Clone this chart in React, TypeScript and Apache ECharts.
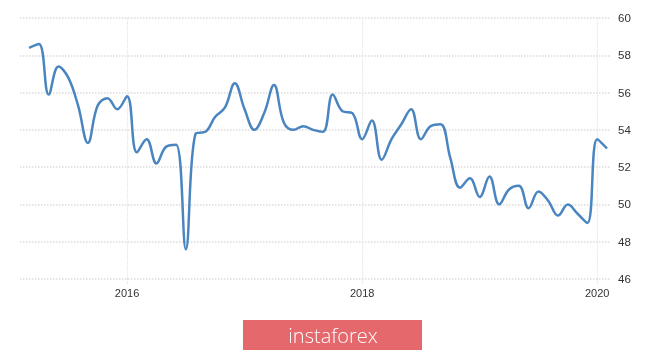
import React, { useEffect, useRef } from "react";
import * as echarts from "echarts";

// Monthly values, Mar 2015 .. Feb 2020
const startYear = 2015;
const startMonth = 3; // March
const values: number[] = [
  // 2015 Mar-Dec
  58.4, 58.6, 55.9, 57.4, 56.8, 55.3, 53.3, 55.3, 55.7, 55.1,
  // 2016
  55.8, 52.8, 53.5, 52.2, 53.1, 53.2, 47.6, 53.8, 53.9, 54.7, 55.2, 56.5,
  // 2017
  55.1, 54.0, 54.9, 56.4, 54.4, 54.0, 54.2, 54.0, 53.9, 55.9, 55.0, 54.9,
  // 2018
  53.5, 54.5, 52.4, 53.5, 54.3, 55.1, 53.5, 54.2, 54.3, 52.5, 50.9, 51.4,
  // 2019
  50.4, 51.5, 50.0, 50.8, 51.0, 49.8, 50.7, 50.2, 49.4, 50.0, 49.5, 49.0,
  // 2020 Jan-Feb
  53.5, 53.0,
];
const yearTicks: number[] = [2016, 2018, 2020];

export default function App() {
  const ref = useRef<HTMLDivElement>(null);
  useEffect(() => {
    if (!ref.current) return;
    const chart = echarts.init(ref.current, undefined, { renderer: "svg" });
    const data = values.map((v, i) => {
      const m = startMonth - 1 + i;
      return [startYear + m / 12, v];
    });
    const gridColor = "#dcdcdc";
    chart.setOption({
      animation: false,
      grid: { left: 20, right: 55, top: 18, bottom: 72 },
      xAxis: {
        type: "value",
        min: 2015.089,
        max: 2020.109,
        axisLine: { show: false },
        axisTick: {
          show: true,
          length: 5,
          customValues: yearTicks,
          lineStyle: { color: gridColor, type: "dotted", width: 1 },
        },
        axisLabel: {
          customValues: yearTicks,
          formatter: (v: number) => String(Math.round(v)),
          color: "#333",
          fontSize: 11,
          fontFamily: "Liberation Sans",
          margin: 8,
        },
        splitLine: {
          show: true,
          lineStyle: { color: "#e2e2e2", type: "dotted", width: 1.2 },
        },
      },
      yAxis: {
        type: "value",
        position: "right",
        min: 46,
        max: 60,
        interval: 2,
        axisLine: { show: false },
        axisTick: { show: false },
        axisLabel: {
          color: "#333",
          fontSize: 11.5,
          fontFamily: "Liberation Sans",
          margin: 8,
        },
        splitLine: {
          show: true,
          lineStyle: { color: gridColor, type: "dotted", width: 1.5 },
        },
      },
      series: [
        {
          type: "line",
          data,
          smooth: 0.4,
          showSymbol: false,
          lineStyle: { color: "#4a85c0", width: 2.5 },
        },
      ],
      graphic: [
        {
          type: "rect",
          left: 243,
          top: 320,
          shape: { width: 179, height: 30 },
          style: { fill: "#e4686c" },
        },
        {
          type: "text",
          x: 333,
          y: 335,
          style: {
            text: "instaforex",
            fill: "#ffffff",
            font: "300 20px 'Open Sans'",
            align: "center",
            verticalAlign: "middle",
          },
        },
      ],
    });
    return () => chart.dispose();
  }, []);
  return (
    <div
      ref={ref}
      style={{ position: "fixed", left: 0, top: 0, width: 665, height: 351 }}
    />
  );
}
